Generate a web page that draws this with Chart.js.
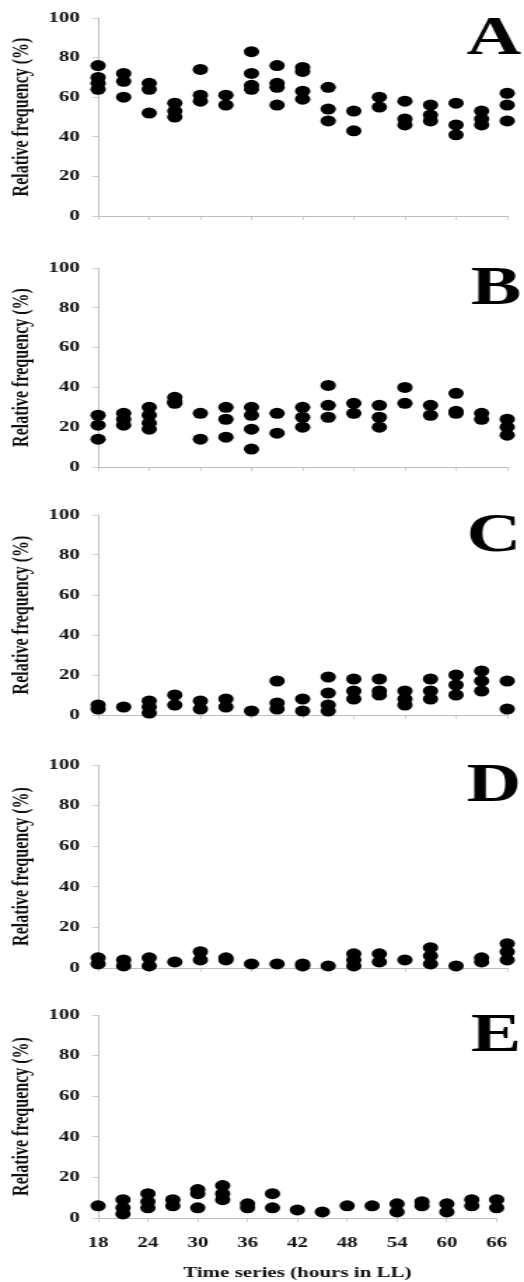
<!DOCTYPE html>
<html>
<head>
<meta charset="utf-8">
<title>Relative frequency – time series</title>
<script src="https://cdn.jsdelivr.net/npm/chart.js@4.4.1/dist/chart.umd.min.js"></script>
<style>
  html, body { margin: 0; padding: 0; background: #fff; }
  body { width: 524px; height: 1282px; position: relative; overflow: hidden; }
  .painel { position: absolute; left: 0; transform-origin: 0 0; }
</style>
</head>
<body>
<script>
// ============================================================================
// DATA
// ============================================================================
const horas = [18, 21, 24, 27, 30, 33, 36, 39, 42, 45, 48, 51, 54, 57, 60, 63, 66];
const ticksX = [18, 24, 30, 36, 42, 48, 54, 60, 66];
const ticksY = [0, 20, 40, 60, 80, 100];
const letras = ['A', 'B', 'C', 'D', 'E'];

const serieA = [
  [76, 70, 67, 64], [72, 68, 60], [67, 64, 52], [57, 53, 50], [74, 61, 58],
  [61, 56], [83, 72, 66, 64], [76, 67, 65, 56], [75, 73, 63, 59], [65, 54, 48],
  [53, 43], [60, 55], [58, 49, 46], [56, 51, 48], [57, 46, 41], [53, 49, 46], [62, 56, 48]
];
const serieB = [
  [26, 21, 14], [27, 24, 21], [30, 26, 22, 19], [35, 33, 32], [27, 14],
  [30, 24, 15], [30, 26, 19, 9], [27, 17], [30, 25, 20], [41, 31, 25],
  [32, 27], [31, 25, 20], [40, 32], [31, 26], [37, 28, 27], [27, 24], [24, 20, 16]
];
const serieC = [
  [5, 3], [4], [7, 4, 1], [10, 5], [7, 3],
  [8, 4], [2], [17, 6, 3], [8, 2], [19, 11, 5, 2],
  [18, 12, 8], [18, 12, 10], [12, 8, 5], [18, 12, 8], [20, 15, 10], [22, 17, 12], [17, 3]
];
const serieD = [
  [5, 2], [4, 1], [5, 1], [3], [8, 4],
  [5, 4], [2], [2], [2, 1], [1],
  [7, 4, 1], [7, 3], [4], [10, 6, 2], [1], [5, 3], [12, 8, 4]
];
const serieE = [
  [6], [9, 5, 2], [12, 8, 5], [9, 6], [14, 12, 5],
  [16, 12, 9], [7, 5], [12, 5], [4], [3],
  [6], [6], [7, 3], [8, 6], [7, 3], [9, 6], [9, 5]
];
const series = [serieA, serieB, serieC, serieD, serieE];

// ============================================================================
// LAYOUT
// ============================================================================
const LARGURA = 374;               // canvas width before horizontal stretch
const ESTICA = 524 / LARGURA;      // figure is stretched horizontally
const topos = [16, 266, 513, 763, 1013];     // plot top (page px)
const fundos = [216, 467, 715, 968, 1218];   // plot bottom (page px)
const FONTE = '"Liberation Serif", "Times New Roman", serif';

// Big panel letter in the top-right corner
const letraPlugin = {
  id: 'letra',
  afterDraw(chart, args, opts) {
    const { ctx, chartArea } = chart;
    ctx.save();
    ctx.font = 'bold 54px ' + FONTE;
    ctx.fillStyle = '#000';
    ctx.textAlign = 'right';
    ctx.textBaseline = 'alphabetic';
    ctx.fillText(opts.text, 372, chartArea.top + 36);
    ctx.restore();
  }
};

letras.forEach((letra, i) => {
  const ultimo = i === letras.length - 1;
  const alturaPlot = fundos[i] - topos[i];
  const baixo = ultimo ? 64 : 22;
  const altura = 16 + alturaPlot + baixo;

  const div = document.createElement('div');
  div.className = 'painel';
  div.style.top = (topos[i] - 16) + 'px';
  div.style.width = LARGURA + 'px';
  div.style.height = altura + 'px';
  div.style.transform = `scaleX(${ESTICA})`;

  const cv = document.createElement('canvas');
  cv.width = LARGURA;
  cv.height = altura;
  div.appendChild(cv);
  document.body.appendChild(div);

  const pontos = series[i].flatMap((vals, k) => vals.map(v => ({ x: horas[k], y: v })));

  const grade = { drawOnChartArea: false, drawTicks: true, tickLength: 4, color: '#cfcfcf' };
  const borda = { color: '#bdbdbd', width: 1 };

  new Chart(cv, {
    type: 'scatter',
    data: {
      datasets: [{
        data: pontos,
        clip: false,
        pointRadius: 5.5,
        pointHoverRadius: 5.5,
        pointBackgroundColor: '#000',
        pointBorderColor: '#000',
        pointBorderWidth: 0,
        showLine: false
      }]
    },
    options: {
      responsive: false,
      animation: false,
      events: [],
      layout: { padding: { top: 16, right: 12, left: 0, bottom: 0 } },
      plugins: {
        legend: { display: false },
        tooltip: { enabled: false },
        letra: { text: letra }
      },
      scales: {
        x: {
          type: 'linear',
          min: 18,
          max: 66,
          afterBuildTicks: s => { s.ticks = ticksX.map(v => ({ value: v })); },
          afterFit: s => { s.height = baixo; },
          grid: grade,
          border: borda,
          ticks: {
            display: ultimo,
            autoSkip: false,
            maxRotation: 0,
            padding: 12,
            color: '#111',
            font: { family: FONTE, size: 15, weight: 'bold' }
          },
          title: {
            display: ultimo,
            text: 'Time series (hours in LL)',
            color: '#111',
            padding: { top: 0, bottom: 0 },
            font: { family: FONTE, size: 15, weight: 'bold' }
          }
        },
        y: {
          min: 0,
          max: 100,
          afterBuildTicks: s => { s.ticks = ticksY.map(v => ({ value: v })); },
          afterFit: s => { s.width = 70; },
          grid: grade,
          border: borda,
          ticks: {
            padding: 9,
            color: '#111',
            font: { family: FONTE, size: 15, weight: 'bold' }
          },
          title: {
            display: true,
            text: 'Relative frequency (%)',
            color: '#111',
            padding: { top: 6, bottom: 0 },
            font: { family: FONTE, size: 16, weight: 'bold' }
          }
        }
      }
    },
    plugins: [letraPlugin]
  });
});
</script>
</body>
</html>
